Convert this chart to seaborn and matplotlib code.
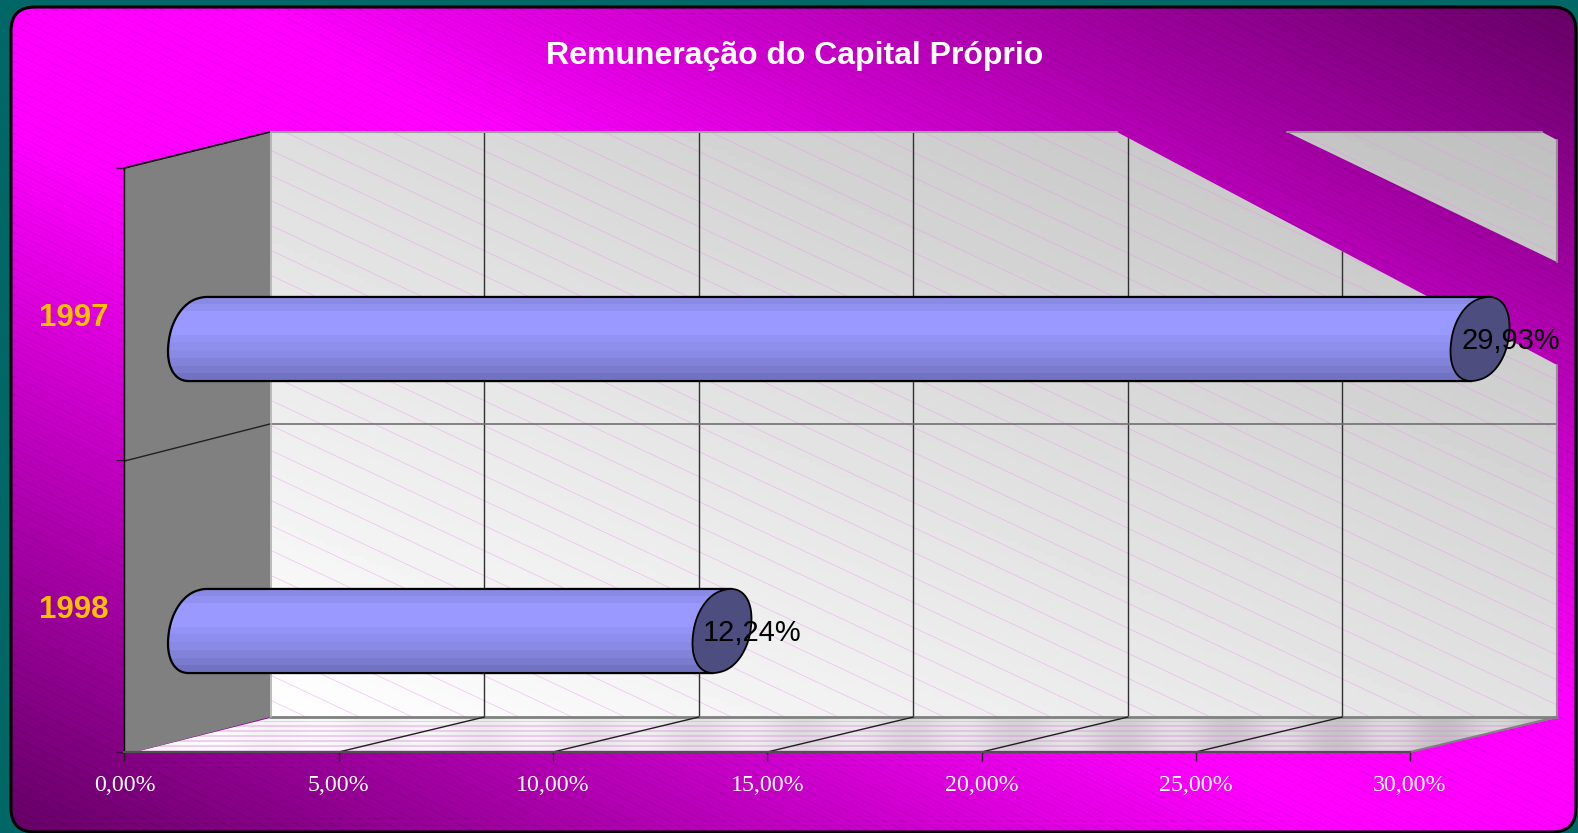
import numpy as np
import matplotlib.pyplot as plt
from matplotlib.patches import FancyBboxPatch, Polygon
from matplotlib.path import Path
import seaborn as sns

# chart values
years = ['1997', '1998']
values = [29.93, 12.24]
value_labels = ['29,93%', '12,24%']
x_ticks = [0, 5, 10, 15, 20, 25, 30]
x_tick_labels = ['0,00%', '5,00%', '10,00%', '15,00%', '20,00%', '25,00%', '30,00%']
title = 'Remuneração do Capital Próprio'

W, H = 1578, 833
sns.set_theme(style='white')
plt.rcParams['font.family'] = ['Liberation Sans', 'DejaVu Sans']


def add_axes_px(fig, left, top, right, bottom, zorder):
    return fig.add_axes([left / W, 1 - bottom / H, (right - left) / W, (bottom - top) / H], zorder=zorder)


fig = plt.figure(figsize=(W / 100, H / 100), dpi=100, facecolor='#006666')

# backdrop in pixel coordinates
bg = add_axes_px(fig, 0, 0, W, H, 0)
bg.set_xlim(0, W)
bg.set_ylim(H, 0)
bg.axis('off')

# rounded frame with the purple/magenta gradient and fine diagonal stripes
xx, yy = np.meshgrid(np.arange(W) + 0.5, np.arange(H) + 0.5)
t = np.abs(xx / W - yy / H)
level = np.clip(255 - (t - 0.15) / 0.85 * 155, 100, 255)
stripes = ((yy - 0.5 * xx) % 9) < 1.0
level = np.where(stripes, level * 0.9, level)
rgb = np.dstack([level, np.zeros_like(level), level]).astype(np.uint8)
im = bg.imshow(rgb, extent=(0, W, H, 0), aspect='auto', zorder=1, interpolation='bilinear')
frame = FancyBboxPatch((35, 31), 1517, H - 31 - 25, boxstyle='round,pad=24,rounding_size=24',
                       facecolor='none', edgecolor='black', linewidth=2.2, zorder=2)
bg.add_patch(frame)
im.set_clip_path(frame)

# back wall, with the strip where the wall is not painted
lower_wall = [(270, 132), (1117, 132), (1557, 365), (1557, 717), (270, 717), (270, 132)]
upper_wall = [(1287, 132), (1542, 132), (1557, 140), (1557, 262), (1287, 132)]
lower_path = Path(lower_wall, closed=True)
wall_path = Path(lower_wall + upper_wall,
                 [Path.MOVETO, Path.LINETO, Path.LINETO, Path.LINETO, Path.LINETO, Path.CLOSEPOLY,
                  Path.MOVETO, Path.LINETO, Path.LINETO, Path.LINETO, Path.CLOSEPOLY])
u, v = np.meshgrid(np.linspace(0, 1, 160), np.linspace(0, 1, 120))
wall_level = (222 * (1 - u) * (1 - v) + 191 * u * (1 - v) + 255 * (1 - u) * v + 226 * u * v) / 255
wall_im = bg.imshow(wall_level, extent=(270, 1557, 717, 132), cmap='gray', vmin=0, vmax=1,
                    aspect='auto', zorder=3)
wall_im.set_clip_path(wall_path, bg.transData)
for offset in np.arange(-700, 800, 25):
    line, = bg.plot([270, 1557], [offset, offset + 1287 * 0.47], color='#f090f0', lw=0.5, alpha=0.55, zorder=4)
    line.set_clip_path(wall_path, bg.transData)

# wall grid
for tick in x_ticks[1:-1]:
    gx = 270 + tick * 42.9
    line, = bg.plot([gx, gx], [132, 717], color='#303030', lw=1.0, zorder=5)
    line.set_clip_path(lower_path, bg.transData)
bg.plot([270, 1557], [424, 424], color='#707070', lw=1.2, zorder=5)
bg.plot([270, 1557], [717, 717], color='#808080', lw=2, zorder=5)
bg.plot([270, 1117], [132, 132], color='#a0a0a0', lw=1.5, zorder=5)
bg.plot([1287, 1542], [132, 132], color='#909090', lw=1.5, zorder=5)
bg.plot([1557, 1557], [140, 262], color='#909090', lw=1.5, zorder=5)
bg.plot([1557, 1557], [365, 717], color='#909090', lw=1.5, zorder=5)

# floor
floor_pts = [(135, 752), (270, 718), (1557, 718), (1410, 752)]
floor_path = Path(floor_pts + [floor_pts[0]], closed=True)
fx, fy = np.meshgrid(np.arange(135, 1557), np.arange(717, 753))
base = 255 - 40 * (fx - 135) / 1422 - 22 * (np.sin(fx / 34.0) ** 2) * ((fx - 135) / 1422 + 0.2)
floor_rgb = np.dstack([base, base, base])
pink = (fy % 5 < 2) & (fy > 720)
floor_rgb[pink] = floor_rgb[pink] * 0.6 + np.array([225, 140, 225]) * 0.4
floor_im = bg.imshow(floor_rgb.astype(np.uint8), extent=(135, 1557, 753, 717), aspect='auto', zorder=3)
floor_im.set_clip_path(floor_path, bg.transData)
bg.plot([1410, 1557], [752, 717], color='#808080', lw=1.5, zorder=5)
for tick in x_ticks[1:-1]:
    bg.plot([124.5 + tick * 42.85, 270 + tick * 42.9], [752, 717], color='#202020', lw=1.0, zorder=5)

# side wall
bg.add_patch(Polygon([(124.5, 168), (270, 132), (270, 717), (135, 752), (124.5, 752)],
                     closed=True, facecolor='#808080', edgecolor='none', zorder=4))
bg.plot([124.5, 270], [168, 132], color='black', lw=1.2, zorder=5)
bg.plot([124.5, 270], [461, 424], color='#202020', lw=1.0, zorder=5)
bg.plot([271, 271], [132, 717], color='#b0b0b0', lw=1.2, zorder=5)
bg.set_xlim(0, W)
bg.set_ylim(H, 0)

bg.text(795, 56, title, color='white', fontsize=23, fontweight='bold', ha='center', va='center', zorder=6)

# front plane carries the axes and tick labels
front = add_axes_px(fig, 124.5, 168, 1410, 752, 1)
front.patch.set_alpha(0)
front.set_xlim(0, 30)
front.set_ylim(1.5, -0.5)
front.set_xticks(x_ticks, labels=x_tick_labels)
front.set_yticks([0, 1], labels=years)
front.set_yticks([-0.5, 0.5, 1.5], minor=True)
front.tick_params(axis='x', length=6.5, width=1, color='#202020', pad=10, bottom=True, labelcolor='white', labelsize=17.2)
front.tick_params(axis='y', which='major', length=0, pad=11.5, labelcolor='#FFC000', labelsize=22.5)
front.tick_params(axis='y', which='minor', length=6, width=1, color='#400040', left=True)
for lab in front.get_xticklabels():
    lab.set_family('Liberation Serif')
for lab in front.get_yticklabels():
    lab.set_fontweight('bold')
for side in ['top', 'right']:
    front.spines[side].set_visible(False)
front.spines['left'].set_color('black')
front.spines['left'].set_linewidth(1.0)
front.spines['bottom'].set_color('#505050')
front.spines['bottom'].set_linewidth(1.5)

# bars sit half way back in the depth of the box
ax = add_axes_px(fig, 197.5, 193, 1483, 777, 2)
ax.patch.set_alpha(0)
sns.barplot(x=values, y=years, orient='h', width=0.288, color='#8a8aee', saturation=1, ax=ax)
ax.set_xlim(0, 30)
ax.set_ylim(1.5, -0.5)
ax.axis('off')

px_x = 30 / (1483 - 197.5)
px_y = 2 / (777 - 193)
shear = 0.28
grad = np.array([0.54, 0.57, 0.60, 0.60, 0.60, 0.58, 0.56, 0.54, 0.51, 0.48, 0.45])
grad_rgb = np.column_stack([grad, grad, np.clip(grad / 0.6, 0, 1) * 0.95 + 0.05])[:, None, :]
grad_rgb = np.clip(grad_rgb, 0, 1)


def cap_points(cx, cy, half_h, theta):
    # rounded sheared ellipse, converted from pixels to data units
    c = np.cos(theta)
    s = np.sin(theta - shear)
    dx = 29.5 * np.sign(c) * np.abs(c) ** 0.92
    dy = half_h * np.sign(s) * np.abs(s) ** 0.95
    return np.column_stack([cx + dx * px_x, cy + dy * px_y])


for bar, label in zip(ax.patches, value_labels):
    val = bar.get_width()
    cy = bar.get_y() + bar.get_height() / 2
    half_h = bar.get_height() / px_y / 2
    left_arc = cap_points(0, cy, half_h, np.linspace(3 * np.pi / 2 + shear, np.pi / 2 + shear, 40))
    top_end = cap_points(val, cy, half_h, np.array([-np.pi / 2 + shear]))
    bottom_end = cap_points(val, cy, half_h, np.array([np.pi / 2 + shear]))
    outline = np.vstack([left_arc, bottom_end, top_end])
    body = Polygon(outline, closed=True, facecolor='none', edgecolor='black', linewidth=1.6, zorder=4, clip_on=False)
    ax.add_patch(body)
    bar_im = ax.imshow(grad_rgb, extent=(-1, val + 1, cy + bar.get_height() / 2, cy - bar.get_height() / 2),
                       aspect='auto', zorder=3, interpolation='nearest')
    bar_im.set_clip_box(fig.bbox)
    bar_im.set_clip_path(body)
    bar.set_visible(False)
    theta = np.linspace(0, 2 * np.pi, 80)
    ax.add_patch(Polygon(cap_points(val, cy, half_h, theta), closed=True, facecolor='#4d4d80',
                         edgecolor='black', linewidth=1.3, zorder=5, clip_on=False))
    ax.annotate(label, (val, cy), xytext=(-19, -2), textcoords='offset pixels', color='black', fontsize=20.9,
                ha='left', va='center', zorder=6, annotation_clip=False)
ax.set_xlim(0, 30)
ax.set_ylim(1.5, -0.5)

fig.savefig('out.png', dpi=100)
